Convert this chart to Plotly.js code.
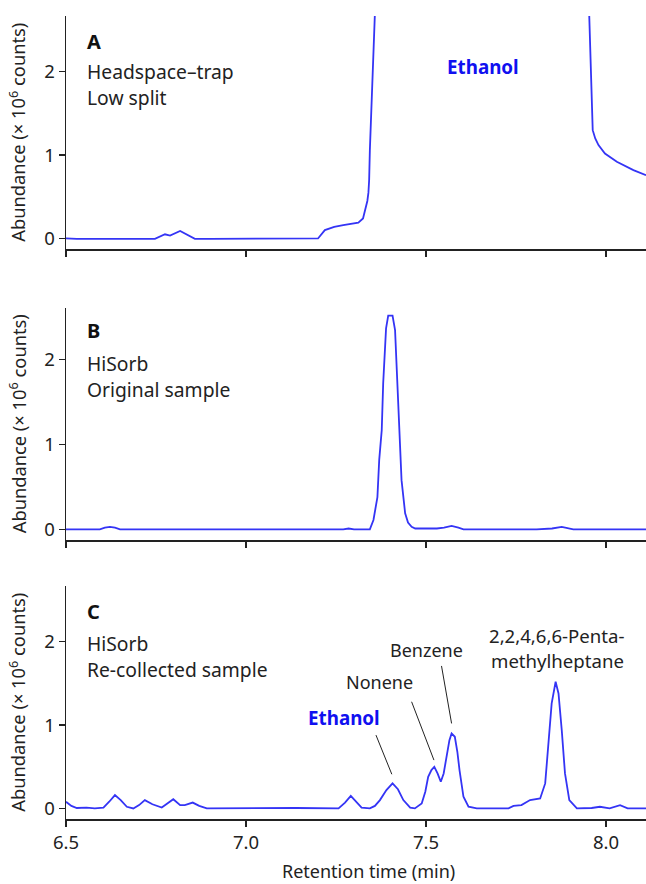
<!DOCTYPE html>
<html><head><meta charset="utf-8">
<script src="https://cdn.plot.ly/plotly-3.0.1.min.js"></script>
<style>html,body{margin:0;padding:0;background:#fff;}</style>
</head><body><div id="chart" style="width:646px;height:884px;"></div>
<script>
// Panel A: Headspace-trap, low split
const tA = [6.5, 6.53, 6.6, 6.7, 6.747, 6.775, 6.789, 6.817, 6.835, 6.858, 6.9, 7.0, 7.1, 7.182, 7.2, 7.219, 7.245, 7.27, 7.3, 7.312, 7.325, 7.331, 7.337, 7.34, 7.342, 7.344, 7.349, 7.354, 7.358, 7.365, 7.38, 7.45, 7.6, 7.8, 7.93, 7.95, 7.954, 7.956, 7.96, 7.963, 7.97, 7.979, 7.997, 8.03, 8.076, 8.111];
const yA = [0.0, -0.005, -0.005, -0.005, -0.005, 0.05, 0.035, 0.09, 0.05, -0.005, -0.005, -0.005, -0.005, -0.005, 0.0, 0.1, 0.14, 0.16, 0.18, 0.19, 0.24, 0.34, 0.45, 0.55, 0.7, 1.06, 1.74, 2.34, 2.7, 3.5, 6, 12, 15, 12, 6, 3.2, 2.7, 2.26, 1.62, 1.30, 1.2, 1.12, 1.02, 0.92, 0.82, 0.76];
// Panel B: HiSorb original sample
const tB = [6.5, 6.594, 6.608, 6.622, 6.636, 6.65, 7.0, 7.27, 7.285, 7.3, 7.344, 7.354, 7.365, 7.37, 7.377, 7.381, 7.389, 7.395, 7.407, 7.414, 7.42, 7.428, 7.432, 7.442, 7.45, 7.46, 7.47, 7.502, 7.53, 7.55, 7.571, 7.59, 7.604, 7.807, 7.85, 7.877, 7.895, 7.909, 8.111];
const yB = [0, 0, 0.02, 0.03, 0.02, 0, 0, 0, 0.01, 0, 0, 0.11, 0.38, 0.82, 1.17, 1.72, 2.37, 2.52, 2.52, 2.35, 1.76, 1.05, 0.58, 0.19, 0.08, 0.03, 0.01, 0.01, 0.01, 0.02, 0.04, 0.02, 0, 0, 0.01, 0.03, 0.01, 0, 0];
// Panel C: HiSorb re-collected sample
const tC = [6.5, 6.515, 6.53, 6.557, 6.58, 6.604, 6.62, 6.636, 6.652, 6.669, 6.687, 6.703, 6.719, 6.74, 6.766, 6.782, 6.798, 6.817, 6.83, 6.852, 6.87, 6.891, 7.02, 7.14, 7.257, 7.275, 7.291, 7.307, 7.321, 7.344, 7.358, 7.372, 7.39, 7.407, 7.422, 7.437, 7.456, 7.469, 7.488, 7.498, 7.506, 7.515, 7.523, 7.532, 7.541, 7.549, 7.557, 7.565, 7.571, 7.58, 7.587, 7.593, 7.604, 7.618, 7.641, 7.729, 7.743, 7.765, 7.789, 7.817, 7.831, 7.84, 7.849, 7.86, 7.868, 7.877, 7.886, 7.898, 7.919, 7.96, 7.983, 8.01, 8.039, 8.06, 8.111];
const yC = [0.08, 0.03, 0.005, 0.01, 0, 0.01, 0.08, 0.16, 0.1, 0.02, 0, 0.04, 0.10, 0.05, 0.01, 0.06, 0.11, 0.04, 0.04, 0.07, 0.03, 0, 0.005, 0.005, 0, 0.07, 0.15, 0.07, 0.01, 0, 0.03, 0.1, 0.22, 0.30, 0.23, 0.1, 0.01, 0, 0.06, 0.2, 0.38, 0.46, 0.50, 0.42, 0.32, 0.42, 0.62, 0.82, 0.90, 0.86, 0.68, 0.46, 0.14, 0.02, 0, 0, 0.03, 0.04, 0.10, 0.12, 0.30, 0.74, 1.26, 1.52, 1.38, 0.94, 0.42, 0.10, 0, 0.005, 0.02, 0, 0.04, 0, 0];

const xTicks = [6.5, 7.0, 7.5, 8.0];
const xTickLabels = ['6.5', '7.0', '7.5', '8.0'];
const yTicks = [0, 1, 2];
const panelLetters = ['A', 'B', 'C'];
const panelText = [['Headspace–trap', 'Low split'], ['HiSorb', 'Original sample'], ['HiSorb', 'Re-collected sample']];

const FONT = 'Noto Sans, sans-serif';
const TXT = '#222';
const LINE = '#3434f5';
const LBLUE = '#1010f0';

const lineStyle = {color: LINE, width: 1.8};
const traces = [
  {x: tA, y: yA, xaxis: 'x', yaxis: 'y', type: 'scatter', mode: 'lines', line: lineStyle, hoverinfo: 'skip'},
  {x: tB, y: yB, xaxis: 'x2', yaxis: 'y2', type: 'scatter', mode: 'lines', line: lineStyle, hoverinfo: 'skip'},
  {x: tC, y: yC, xaxis: 'x3', yaxis: 'y3', type: 'scatter', mode: 'lines', line: lineStyle, hoverinfo: 'skip'}
];

function xax(anchor, labels) {
  return {
    anchor: anchor, domain: [0, 1], range: [6.5, 8.111],
    tickvals: xTicks, ticktext: xTickLabels, showticklabels: labels,
    ticks: 'outside', ticklen: 6, tickwidth: 1.3, tickcolor: TXT,
    showline: true, linecolor: TXT, linewidth: 1.5,
    showgrid: false, zeroline: false,
    tickfont: {family: FONT, size: 18.5, color: TXT}
  };
}
function yax(anchor, domain, range) {
  return {
    anchor: anchor, domain: domain, range: range,
    tickvals: yTicks, ticks: 'outside', ticklen: 6, tickwidth: 1.3, tickcolor: TXT,
    showline: true, linecolor: TXT, linewidth: 1.5,
    showgrid: false, zeroline: false,
    tickfont: {family: FONT, size: 18.5, color: TXT}
  };
}

const domA = [0.7098, 1.0], domB = [0.3474, 0.6364], domC = [0, 0.2902];
const annotations = [];
const yrefs = ['y', 'y2', 'y3'], xrefs = ['x', 'x2', 'x3'];
const letterY = [2.36, 2.35, 2.36];
const line1Y = [2.0, 1.95, 1.98];
const line2Y = [1.69, 1.645, 1.67];
for (let i = 0; i < 3; i++) {
  annotations.push({xref: xrefs[i], yref: yrefs[i], x: 6.553, y: letterY[i], xanchor: 'left', yanchor: 'middle', showarrow: false,
    text: '<b>' + panelLetters[i] + '</b>', font: {family: FONT, size: 20, color: '#111'}});
  annotations.push({xref: xrefs[i], yref: yrefs[i], x: 6.553, y: line1Y[i], xanchor: 'left', yanchor: 'middle', showarrow: false,
    text: panelText[i][0], font: {family: FONT, size: 19.3, color: TXT}});
  annotations.push({xref: xrefs[i], yref: yrefs[i], x: 6.553, y: line2Y[i], xanchor: 'left', yanchor: 'middle', showarrow: false,
    text: panelText[i][1], font: {family: FONT, size: 19.3, color: TXT}});
}
// y titles
const doms = [domA, domB, domC];
for (let i = 0; i < 3; i++) {
  annotations.push({xref: 'paper', yref: 'paper', x: -0.084, y: (doms[i][0] + doms[i][1]) / 2, xanchor: 'center', yanchor: 'middle',
    textangle: -90, showarrow: false, text: 'Abundance (× 10<sup>6</sup> counts)', font: {family: FONT, size: 18.3, color: TXT}});
}
// compound labels
annotations.push({xref: 'x', yref: 'y', x: 7.657, y: 2.06, showarrow: false, text: '<b>Ethanol</b>', font: {family: FONT, size: 18.8, color: LBLUE}});
annotations.push({xref: 'x2', yref: 'y2', x: 7.403, y: 2.77, showarrow: false, text: '<b>Ethanol</b>', font: {family: FONT, size: 18.8, color: LBLUE}});
annotations.push({xref: 'x3', yref: 'y3', x: 7.273, y: 1.08, showarrow: false, text: '<b>Ethanol</b>', font: {family: FONT, size: 18.8, color: LBLUE}});
annotations.push({xref: 'x3', yref: 'y3', x: 7.372, y: 1.52, showarrow: false, text: 'Nonene', font: {family: FONT, size: 18, color: TXT}});
annotations.push({xref: 'x3', yref: 'y3', x: 7.502, y: 1.90, showarrow: false, text: 'Benzene', font: {family: FONT, size: 18, color: TXT}});
annotations.push({xref: 'x3', yref: 'y3', x: 7.862, y: 2.08, showarrow: false, text: '2,2,4,6,6-Penta-', font: {family: FONT, size: 18.6, color: TXT}});
annotations.push({xref: 'x3', yref: 'y3', x: 7.864, y: 1.78, showarrow: false, text: 'methylheptane', font: {family: FONT, size: 18.6, color: TXT}});
// x title
annotations.push({xref: 'paper', yref: 'paper', x: (368.5 - 66) / 580, y: (819 - 871) / 803, xanchor: 'center', yanchor: 'middle', showarrow: false,
  text: 'Retention time (min)', font: {family: FONT, size: 18, color: TXT}});

const shapes = [
  {type: 'line', xref: 'x3', yref: 'y3', x0: 7.361, y0: 0.88, x1: 7.405, y1: 0.41, line: {color: TXT, width: 1}},
  {type: 'line', xref: 'x3', yref: 'y3', x0: 7.46, y0: 1.28, x1: 7.522, y1: 0.58, line: {color: TXT, width: 1}},
  {type: 'line', xref: 'x3', yref: 'y3', x0: 7.543, y0: 1.71, x1: 7.571, y1: 1.02, line: {color: TXT, width: 1}}
];

const layout = {
  width: 646, height: 884,
  margin: {l: 66, r: 0, t: 16, b: 65},
  paper_bgcolor: '#fff', plot_bgcolor: '#fff',
  showlegend: false,
  xaxis: xax('y', false), yaxis: yax('x', domA, [-0.127, 2.67]),
  xaxis2: xax('y2', false), yaxis2: yax('x2', domB, [-0.126, 2.61]),
  xaxis3: xax('y3', true), yaxis3: yax('x3', domC, [-0.127, 2.67]),
  annotations: annotations, shapes: shapes
};
Plotly.newPlot('chart', traces, layout, {displayModeBar: false, staticPlot: true});
</script></body></html>
